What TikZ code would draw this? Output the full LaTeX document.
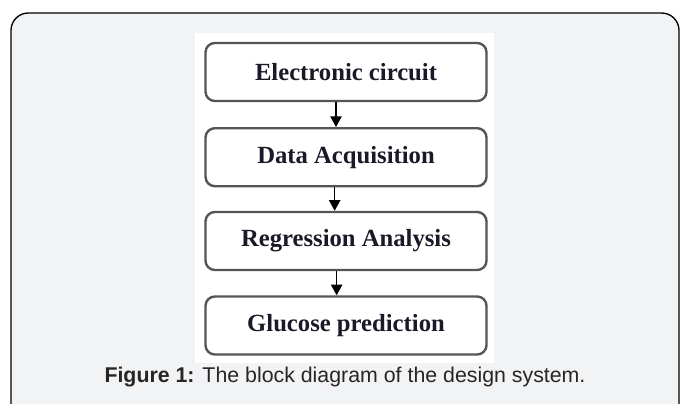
\documentclass[tikz,border=0pt]{standalone}
\usepackage{fontspec}
\setmainfont{Liberation Serif}
\newfontfamily\capfont{Liberation Sans}
\usetikzlibrary{arrows.meta}

\definecolor{framegray}{RGB}{242,243,245}
\definecolor{boxgray}{RGB}{85,85,85}
\definecolor{inkblue}{RGB}{28,24,40}

\tikzset{
	blockbox/.style={draw=boxgray, line width=1.8, rounded corners=7, fill=white,
		minimum width=281*0.75pt, minimum height=58*0.75pt, inner sep=0pt,
		text=inkblue, font=\bfseries\fontsize{18.5}{20}\selectfont},
	flowarrow/.style={-{Triangle[length=8pt,width=8.5pt]}, line width=1, black},
}

\begin{document}
\begin{tikzpicture}[x=0.75pt,y=0.75pt,yscale=-1,xscale=1]
	\useasboundingbox (0,0) rectangle (681,403);
	
	%Shape: Frame 
	\filldraw [fill=framegray, draw=black, line width=1, rounded corners=13] (11,420) -- (11,13) -- (679,13) -- (679,420) ;
	%Shape: White panel 
	\fill [white] (195,33) rectangle (494,363) ;
	
	% Blocks
	\node [blockbox] (circuit) at (346,72) {Electronic circuit};
	\node [blockbox] (acq) at (346,157.2) {Data Acquisition};
	\node [blockbox] (regr) at (346,241) {Regression Analysis};
	\node [blockbox] (pred) at (346,325.5) {Glucose prediction};
	
	% Arrows
	\draw [flowarrow] ([xshift=-7.5pt]circuit.south) -- ([xshift=-7.5pt]acq.north) ;
	\draw [flowarrow] ([xshift=-8.5pt]acq.south) -- ([xshift=-8.5pt]regr.north) ;
	\draw [flowarrow] ([xshift=-7pt]regr.south) -- ([xshift=-7pt]pred.north) ;
	
	% Caption
	\node [inner sep=0pt, font=\capfont\fontsize{16}{18}\selectfont, text=black!85] (caption) at (345,377) {\textbf{Figure 1:} The block diagram of the design system.};
	
\end{tikzpicture}
\end{document}
